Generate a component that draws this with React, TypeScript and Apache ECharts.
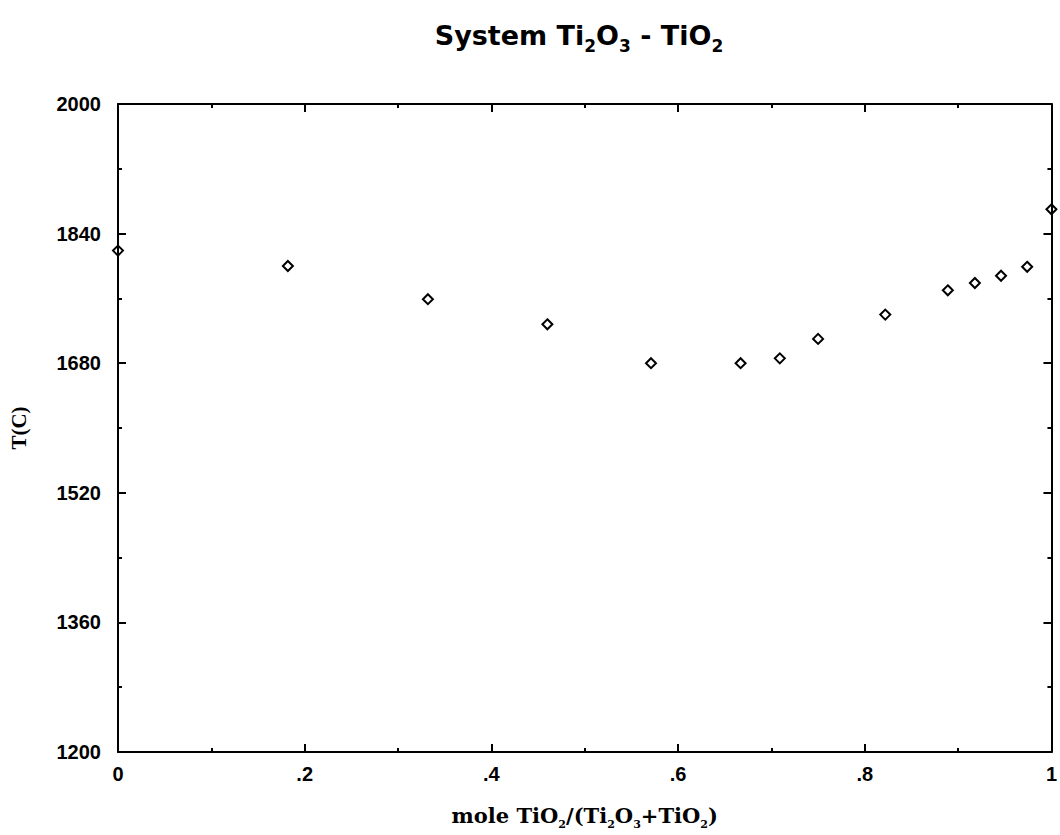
import React, { useEffect, useRef } from "react";
import * as echarts from "echarts";

// Liquidus temperatures across the Ti2O3 - TiO2 join
const moleFractionTiO2 = [0, 0.182, 0.332, 0.46, 0.571, 0.667, 0.709, 0.75, 0.822, 0.889, 0.918, 0.946, 0.974, 1];
const temperatureC = [1819, 1800, 1759, 1728, 1680, 1680, 1686, 1710, 1740, 1770, 1779, 1788, 1799, 1870];

// Axis ticks
const xTickLabels = ["0", ".2", ".4", ".6", ".8", "1"];
const yMajorTicks = [1200, 1360, 1520, 1680, 1840, 2000];
const yMinorTicks = [1280, 1440, 1600, 1760, 1920];

const BLACK = "#000";
const axisLineStyle = { color: BLACK, width: 2 };

const tickLabelStyle = {
  color: BLACK,
  fontFamily: "Liberation Sans",
  fontWeight: "bold" as const,
  fontSize: 20,
};

function xAxisFor(position: "bottom" | "top", withLabels: boolean) {
  return {
    type: "value",
    position,
    min: 0,
    max: 1,
    interval: 0.2,
    axisLine: { show: true, onZero: false, lineStyle: axisLineStyle },
    axisTick: { show: true, inside: true, length: 8, lineStyle: axisLineStyle },
    minorTick: { show: true, splitNumber: 2, length: 4, lineStyle: axisLineStyle },
    splitLine: { show: false },
    minorSplitLine: { show: false },
    axisLabel: withLabels
      ? {
          show: true,
          margin: 12,
          ...tickLabelStyle,
          formatter: (v: number) => xTickLabels[Math.round(v / 0.2)] ?? "",
        }
      : { show: false },
  };
}

function yAxisFor(position: "left" | "right", ticks: number[], tickLength: number, withLine: boolean) {
  return {
    type: "value",
    position,
    min: 1200,
    max: 2000,
    axisLine: { show: withLine, onZero: false, lineStyle: axisLineStyle },
    axisTick: {
      show: true,
      inside: true,
      length: tickLength,
      lineStyle: axisLineStyle,
      customValues: ticks,
    },
    splitLine: { show: false },
    axisLabel: { show: false },
  };
}

export default function App() {
  const ref = useRef<HTMLDivElement>(null);

  useEffect(() => {
    if (!ref.current) return;
    const chart = echarts.init(ref.current, null, { renderer: "svg" });

    const bottomAxis: any = xAxisFor("bottom", true);
    bottomAxis.name =
      "{m|mole TiO}{s|2}{m|/(Ti}{s|2}{m|O}{s|3}{m|+TiO}{s|2}{m|)}";
    bottomAxis.nameLocation = "middle";
    bottomAxis.nameGap = 48;
    bottomAxis.nameTextStyle = {
      rich: {
        m: {
          fontFamily: "DejaVu Serif",
          fontWeight: "bold",
          fontSize: 21,
          lineHeight: 30,
          color: BLACK,
          verticalAlign: "middle",
        },
        s: {
          fontFamily: "DejaVu Serif",
          fontWeight: "bold",
          fontSize: 11,
          lineHeight: 11,
          color: BLACK,
          verticalAlign: "bottom",
        },
      },
    };

    const leftAxis: any = yAxisFor("left", yMajorTicks, 8, true);
    leftAxis.axisLabel = {
      show: true,
      margin: 17,
      ...tickLabelStyle,
      customValues: yMajorTicks,
      formatter: (v: number) => String(v),
    };
    leftAxis.name = "T(C)";
    leftAxis.nameLocation = "middle";
    leftAxis.nameRotate = 90;
    leftAxis.nameGap = 89;
    leftAxis.nameTextStyle = {
      fontFamily: "Liberation Serif",
      fontWeight: "bold",
      fontSize: 21,
      color: BLACK,
    };

    chart.setOption({
      animation: false,
      backgroundColor: "#fff",
      grid: { left: 117, right: 4, top: 104, bottom: 81, containLabel: false },
      graphic: [
        {
          type: "text",
          x: 579,
          y: 35,
          style: {
            text: "{m|System Ti}{s|2}{m|O}{s|3}{m| - TiO}{s|2}",
            align: "center",
            verticalAlign: "middle",
            rich: {
              m: {
                fontFamily: "DejaVu Sans",
                fontWeight: "bold",
                fontSize: 27,
                lineHeight: 38,
                fill: BLACK,
                verticalAlign: "middle",
              },
              s: {
                fontFamily: "DejaVu Sans",
                fontWeight: "bold",
                fontSize: 17,
                lineHeight: 17,
                fill: BLACK,
                verticalAlign: "bottom",
              },
            },
          },
        },
      ],
      xAxis: [bottomAxis, xAxisFor("top", false)],
      yAxis: [
        leftAxis,
        yAxisFor("right", yMajorTicks, 8, true),
        yAxisFor("left", yMinorTicks, 4, false),
        yAxisFor("right", yMinorTicks, 4, false),
      ],
      series: [
        {
          type: "scatter",
          xAxisIndex: 0,
          yAxisIndex: 0,
          data: moleFractionTiO2.map((x, i) => [x, temperatureC[i]]),
          symbol: "diamond",
          symbolSize: 10,
          clip: false,
          silent: true,
          z: 5,
          itemStyle: {
            color: "rgba(255,255,255,0)",
            borderColor: BLACK,
            borderWidth: 2,
            opacity: 1,
          },
        },
      ],
    });

    return () => chart.dispose();
  }, []);

  return (
    <div
      ref={ref}
      style={{ position: "absolute", left: 0, top: 0, width: 1060, height: 835, background: "#fff" }}
    />
  );
}
